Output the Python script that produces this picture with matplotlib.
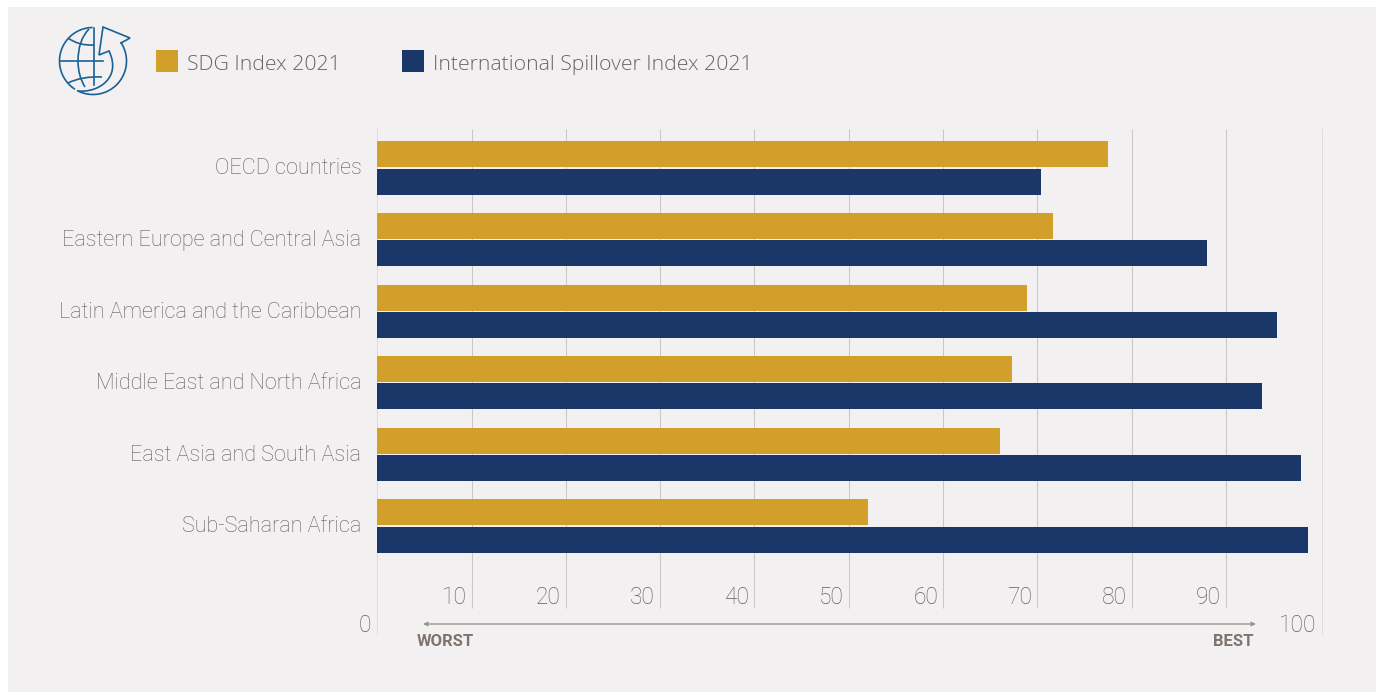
import matplotlib
matplotlib.use("Agg")
import matplotlib.pyplot as plt
import numpy as np
from matplotlib.patches import PathPatch, Rectangle
from matplotlib.path import Path

plt.rcParams["font.family"] = ["Roboto", "DejaVu Sans"]

regions = ["OECD countries", "Eastern Europe and Central Asia", "Latin America and the Caribbean",
           "Middle East and North Africa", "East Asia and South Asia", "Sub-Saharan Africa"]
sdg_index = [77.5, 71.65, 68.9, 67.3, 66.0, 52.0]
spillover_index = [70.4, 88.0, 95.4, 93.8, 98.0, 98.7]
inner_ticks = [10, 20, 30, 40, 50, 60, 70, 80, 90]
series_names = ["SDG Index 2021", "International Spillover Index 2021"]

GOLD = "#d19f2a"
NAVY = "#1b3668"
BG = "#f2f0f1"
TICK = "#675d59"
W, H = 1380, 693

fig = plt.figure(figsize=(W / 100, H / 100), dpi=100, facecolor="white")

# page panel and the icon are drawn in pixel coords
over = fig.add_axes([0, 0, 1, 1], zorder=0)
over.set_xlim(0, W)
over.set_ylim(H, 0)
over.axis("off")
over.add_patch(Rectangle((8, 7), 1368, 685, fc=BG, ec="none"))

# main axes, one unit is 9.43 px, the right edge line sits a little past 100
ax = fig.add_axes([377.3 / W, 1 - 635 / H, 945.7 / W, 506 / H], zorder=1)
ax.patch.set_alpha(0)
step = 71.6
ax.set_xlim(0, 100.3)
ax.set_ylim((635 - 168) / step, (129 - 168) / step)
for s in ax.spines.values():
    s.set_visible(False)
ax.set_xticks([])
ax.set_yticks([])

y = np.arange(len(regions))
grid_bottom = (608 - 168) / step
ax.vlines(inner_ticks, ax.get_ylim()[1], grid_bottom, color="#cbc7c5", lw=0.75, zorder=1)
ax.vlines([0, 100.3], *ax.get_ylim(), color="#d8d5d5", lw=1.1, zorder=1)
ax.barh(y - 0.19, sdg_index, 0.363, color=GOLD, zorder=2)
ax.barh(y + 0.19, spillover_index, 0.363, color=NAVY, zorder=2)

for i, name in enumerate(regions):
    ax.annotate(name, (0, y[i]), xytext=(-16, -1), textcoords="offset pixels", ha="right", va="center",
                fontsize=15.6, color=TICK, fontweight="light")

for t in inner_ticks:
    ax.annotate(str(t), (t, grid_bottom), xytext=(-5, -1), textcoords="offset pixels", ha="right", va="bottom",
                fontsize=16.4, color=TICK, fontweight="light")
over.text(371, 623, "0", ha="right", va="center_baseline", fontsize=16.4, color=TICK, fontweight="light")
over.text(1316, 623, "100", ha="right", va="center_baseline", fontsize=16.4, color=TICK, fontweight="light")

# worst / best arrow
over.annotate("", xy=(423, 624), xytext=(1256, 624),
              arrowprops=dict(arrowstyle="<|-|>", color="#9b9590", lw=1, mutation_scale=6, shrinkA=0, shrinkB=0))
over.text(417, 642, "WORST", ha="left", va="center", fontsize=12, fontweight="bold", color="#7f746f")
over.text(1253, 642, "BEST", ha="right", va="center", fontsize=12, fontweight="bold", color="#7f746f")

# legend
over.add_patch(Rectangle((156, 50), 22, 22, fc=GOLD, ec="none"))
over.add_patch(Rectangle((402, 50), 22, 22, fc=NAVY, ec="none"))
over.text(187, 65, series_names[0], ha="left", va="center", fontsize=15.3, color="#66666a",
          family=["Open Sans", "DejaVu Sans"], fontweight="light")
over.text(433, 65, series_names[1], ha="left", va="center", fontsize=15.3, color="#66666a",
          family=["Open Sans", "DejaVu Sans"], fontweight="light")

# globe icon
c = "#1a6296"
lw = 1.2
cx, cy, r = 93, 61, 33.5


def arc(a0, a1):
    a = np.radians(np.linspace(a0, a1, 60))
    return cx + r * np.cos(a), cy - r * np.sin(a)


def curve(points, codes):
    over.add_patch(PathPatch(Path(points, codes), fc="none", ec=c, lw=lw, joinstyle="miter"))


over.plot(*arc(92, 236), color=c, lw=lw)
over.plot([60, 103], [61, 61], color=c, lw=lw)
over.plot([94, 94], [28, 85], color=c, lw=lw)
c3 = [Path.MOVETO, Path.CURVE3, Path.CURVE3]
c4 = [Path.MOVETO, Path.CURVE4, Path.CURVE4, Path.CURVE4]
curve([(89, 29), (78, 40), (78, 61)], c3)
curve([(78, 61), (78, 76), (85, 87)], c3)
curve([(68, 38), (79, 46), (94, 45)], c3)
curve([(68, 83), (82, 76), (102, 77)], c3)
# arrow outline
ox, oy = arc(33, -117)
over.plot(ox, oy, color=c, lw=lw)
over.plot([121, 130, 103, 99, 109], [43, 38, 27, 55, 51], color=c, lw=lw, solid_joinstyle="miter")
curve([(78, 91), (98, 93), (122, 78), (109, 51)], c4)

fig.savefig("out.png", dpi=100, facecolor=fig.get_facecolor())
